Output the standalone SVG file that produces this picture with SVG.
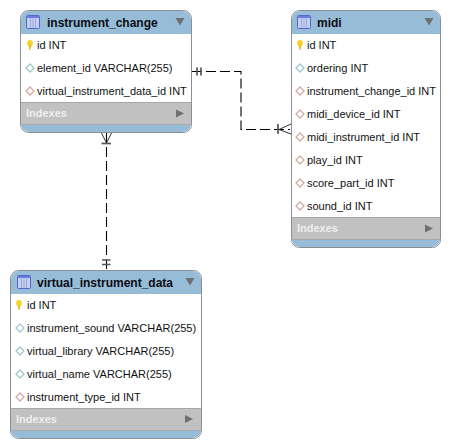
<svg xmlns="http://www.w3.org/2000/svg" width="450" height="448" viewBox="0 0 450 448">
<style>
text{font-family:"Liberation Sans",Arial,sans-serif;fill:#111}
.t{font-size:12px;font-weight:bold;fill:#0c0c14}
.r{font-size:11px}
.ix{font-size:11px;font-weight:bold;fill:#eeeeee}
.hd{fill:#97bcd7}
.b{fill:#fff;stroke:#8b8f93;stroke-width:1}
.g{fill:#c1c1c1}
.sep{stroke:#a8a8a8;stroke-width:1;fill:none}
.conn{fill:none;stroke:#000;stroke-width:1.1;stroke-dasharray:10 4}
.sym{fill:none;stroke:#555;stroke-width:1.7}
.crow{fill:none;stroke:#333;stroke-width:1}
.di{fill:#fff;stroke:#9cc9d2;stroke-width:1.3}
.fk{fill:#fff;stroke:#d5aaa5;stroke-width:1.3}
.arr{fill:#6f6f6f}
</style>
<defs>
<g id="ico"><rect x="0.500" y="0.500" width="13" height="13" rx="1" fill="#c5d0ee" stroke="#5566cc" stroke-width="1"/><rect x="1" y="1" width="12" height="2" fill="#6b7edc"/><path d="M4.500 3.500V13M7 3.500V13M9.500 3.500V13" stroke="#9aa8e0" stroke-width="1" fill="none"/></g>
<g id="key"><ellipse cx="3" cy="3.200" rx="2.800" ry="3.200" fill="#f5d327"/><path d="M1.900 5.500H4.100L3.600 10H2.400Z" fill="#e8b818"/></g>
<path id="dm" d="M0 -4L4 0L0 4L-4 0Z"/>
<path id="down" class="arr" d="M0 0H9L4.500 7.500Z"/>
<path id="right" class="arr" d="M0 0L8 4L0 8Z"/>
</defs>
<g id="connectors">
<path class="conn" d="M192 71.500H241V129.500H290"/>
<path class="conn" d="M106.500 133V270"/>
<path class="sym" d="M197 67.500V75.500M201 67.500V75.500"/>
<path class="sym" d="M278 124V134"/>
<path class="crow" d="M291 124L279 129.500L291 134"/>
<path class="sym" d="M101.500 143.500H111"/>
<path class="crow" d="M101.500 133L106.500 143L111.500 133"/>
<path class="sym" d="M102 260H110.500M102 264.500H110.500"/>
</g>
<g id="instrument_change">
<rect class="b" x="20.500" y="10.500" width="171" height="122" rx="8"/>
<path class="hd" d="M21 34V18.500A8 8 0 0 1 29 11H183A8 8 0 0 1 191 18.500V34Z"/>
<rect class="g" x="21" y="102" width="170" height="22"/>
<path class="hd" d="M21 124H191V124.500A8 8 0 0 1 183 132H29A8 8 0 0 1 21 124.500Z"/>
<path class="sep" d="M21 102.500H191M21 124.500H191"/>
<use href="#ico" x="26" y="15"/>
<text class="t" x="47" y="26.500">instrument_change</text>
<use href="#down" x="175.500" y="18"/>
<use href="#key" x="27" y="40"/>
<text class="r" x="37" y="49">id INT</text>
<use href="#dm" class="di" x="30" y="68"/>
<text class="r" x="37" y="72">element_id VARCHAR(255)</text>
<use href="#dm" class="fk" x="30" y="91"/>
<text class="r" x="37" y="95">virtual_instrument_data_id INT</text>
<text class="ix" x="26" y="117">Indexes</text>
<use href="#right" x="176" y="109.500"/>
</g>
<g id="midi">
<rect class="b" x="291.500" y="10.500" width="149" height="237" rx="8"/>
<path class="hd" d="M292 34V18.500A8 8 0 0 1 300 11H432A8 8 0 0 1 440 18.500V34Z"/>
<rect class="g" x="292" y="217" width="148" height="22"/>
<path class="hd" d="M292 239H440V239.500A8 8 0 0 1 432 247H300A8 8 0 0 1 292 239.500Z"/>
<path class="sep" d="M292 217.500H440M292 239.500H440"/>
<use href="#ico" x="297" y="15"/>
<text class="t" x="317" y="26.500">midi</text>
<use href="#down" x="424.500" y="18"/>
<use href="#key" x="297" y="40"/>
<text class="r" x="307" y="49">id INT</text>
<use href="#dm" class="di" x="300" y="68"/>
<text class="r" x="307" y="72">ordering INT</text>
<use href="#dm" class="fk" x="300" y="91"/>
<text class="r" x="307" y="95">instrument_change_id INT</text>
<use href="#dm" class="fk" x="300" y="114"/>
<text class="r" x="307" y="118">midi_device_id INT</text>
<use href="#dm" class="fk" x="300" y="137"/>
<text class="r" x="307" y="141">midi_instrument_id INT</text>
<use href="#dm" class="fk" x="300" y="160"/>
<text class="r" x="307" y="164">play_id INT</text>
<use href="#dm" class="fk" x="300" y="183"/>
<text class="r" x="307" y="187">score_part_id INT</text>
<use href="#dm" class="fk" x="300" y="206"/>
<text class="r" x="307" y="210">sound_id INT</text>
<text class="ix" x="297" y="232">Indexes</text>
<use href="#right" x="425" y="224.500"/>
</g>
<g id="virtual_instrument_data">
<rect class="b" x="10.500" y="270.500" width="191" height="168" rx="8"/>
<path class="hd" d="M11 294V278.500A8 8 0 0 1 19 271H193A8 8 0 0 1 201 278.500V294Z"/>
<rect class="g" x="11" y="408" width="190" height="22"/>
<path class="hd" d="M11 430H201V430.500A8 8 0 0 1 193 438H19A8 8 0 0 1 11 430.500Z"/>
<path class="sep" d="M11 408.500H201M11 430.500H201"/>
<use href="#ico" x="17" y="275"/>
<text class="t" x="37" y="286.500">virtual_instrument_data</text>
<use href="#down" x="185.500" y="278"/>
<use href="#key" x="16" y="300"/>
<text class="r" x="27" y="309">id INT</text>
<use href="#dm" class="di" x="20" y="328"/>
<text class="r" x="27" y="332">instrument_sound VARCHAR(255)</text>
<use href="#dm" class="di" x="20" y="351"/>
<text class="r" x="27" y="355">virtual_library VARCHAR(255)</text>
<use href="#dm" class="di" x="20" y="374"/>
<text class="r" x="27" y="378">virtual_name VARCHAR(255)</text>
<use href="#dm" class="fk" x="20" y="397"/>
<text class="r" x="27" y="401">instrument_type_id INT</text>
<text class="ix" x="16" y="423">Indexes</text>
<use href="#right" x="185" y="415"/>
</g>
</svg>
